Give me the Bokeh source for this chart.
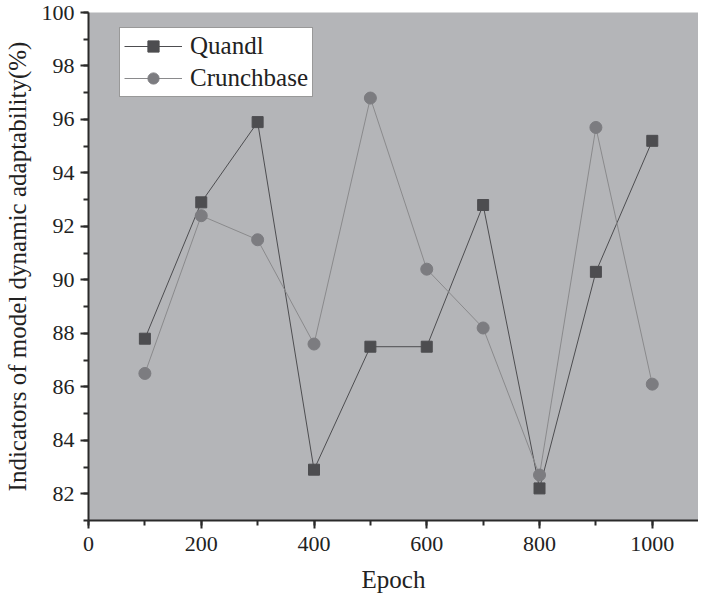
from bokeh.plotting import figure
from bokeh.models import (Range1d, SingleIntervalTicker, Legend, LegendItem)
from bokeh.embed import file_html
from bokeh.resources import INLINE

epochs = [100, 200, 300, 400, 500, 600, 700, 800, 900, 1000]
quandl = [87.8, 92.9, 95.9, 82.9, 87.5, 87.5, 92.8, 82.2, 90.3, 95.2]
crunchbase = [86.5, 92.4, 91.5, 87.6, 96.8, 90.4, 88.2, 82.7, 95.7, 86.1]

FONT = "Liberation Serif"

p = figure(width=698, height=595, output_backend="svg", toolbar_location=None,
           x_range=Range1d(0, 1082), y_range=Range1d(81, 100),
           min_border_top=12, min_border_right=0, min_border_left=83, min_border_bottom=10)

p.background_fill_color = "#b4b5b8"
p.border_fill_color = "white"
p.outline_line_color = None
p.grid.visible = False

l1 = p.line(epochs, quandl, line_color="#4d4d50", line_width=1)
s1 = p.scatter(epochs, quandl, marker="square", size=11, fill_color="#4d4d50", line_color="#4d4d50")
l2 = p.line(epochs, crunchbase, line_color="#8a8a8c", line_width=1)
s2 = p.scatter(epochs, crunchbase, marker="circle", size=12, fill_color="#7c7c80", line_color="#7c7c80")

legend = Legend(items=[LegendItem(label="Quandl", renderers=[l1, s1]),
                       LegendItem(label="Crunchbase", renderers=[l2, s2])],
                location=(31, 423))
legend.label_text_font = FONT
legend.label_text_font_size = "25px"
legend.label_text_color = "#222222"
legend.glyph_width = 58
legend.glyph_height = 28
legend.label_height = 28
legend.label_standoff = 8
legend.spacing = 4
legend.padding = 4
legend.margin = 0
legend.border_line_color = "#333333"
legend.border_line_width = 1
legend.background_fill_color = "white"
legend.background_fill_alpha = 1
p.add_layout(legend, "center")

p.xaxis.ticker = SingleIntervalTicker(interval=200, num_minor_ticks=2)
p.yaxis.ticker = SingleIntervalTicker(interval=2, num_minor_ticks=2)

for ax in (p.xaxis[0], p.yaxis[0]):
    ax.axis_line_width = 2
    ax.axis_line_color = "#2a2a2a"
    ax.major_tick_line_width = 2
    ax.major_tick_line_color = "#2a2a2a"
    ax.minor_tick_line_width = 2
    ax.minor_tick_line_color = "#2a2a2a"
    ax.major_tick_in = 0
    ax.major_tick_out = 8
    ax.minor_tick_in = 0
    ax.minor_tick_out = 5
    ax.major_label_text_font = FONT
    ax.major_label_text_font_size = "22px"
    ax.major_label_text_color = "#222222"
    ax.axis_label_text_font = FONT
    ax.axis_label_text_font_size = "25px"
    ax.axis_label_text_font_style = "normal"
    ax.axis_label_text_color = "#222222"

p.xaxis.axis_label = "Epoch"
p.yaxis.axis_label = "Indicators of model dynamic adaptability(%)"
p.xaxis.major_label_standoff = 8
p.yaxis.major_label_standoff = 6
p.xaxis.axis_label_standoff = 12
p.yaxis.axis_label_standoff = 8

open("out.html", "w").write(file_html(p, INLINE))
